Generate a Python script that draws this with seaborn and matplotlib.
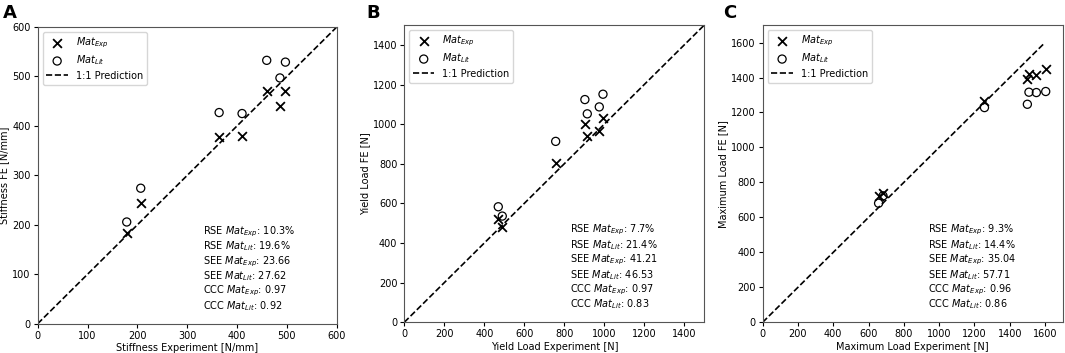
import numpy as np
import pandas as pd
import seaborn as sns
import matplotlib.pyplot as plt

# %%
# panel A: stiffness [N/mm]
stiff_exp = [178.6, 206.7, 364, 410, 459.5, 486, 497]
stiff_fe_exp = [182.8, 244, 378, 380, 471, 441, 471]
stiff_fe_lit = [205.7, 274, 427, 425, 532.6, 497, 529]

# panel B: yield load [N]
yield_exp = [470, 490, 757, 903, 915, 975, 993.5]
yield_fe_exp = [519, 479, 803, 1000, 941, 965, 1032]
yield_fe_lit = [583, 536, 913, 1124, 1052, 1087, 1151]

# panel C: maximum load [N]
max_exp = [657, 682, 1257, 1500, 1509, 1551, 1604]
max_fe_exp = [723, 738, 1268, 1392, 1421, 1417, 1448]
max_fe_lit = [681, 723, 1228, 1247, 1316, 1314, 1320]

stats_A = ["10.3%", "19.6%", "23.66", "27.62", "0.97", "0.92"]
stats_B = ["7.7%", "21.4%", "41.21", "46.53", "0.97", "0.83"]
stats_C = ["9.3%", "14.4%", "35.04", "57.71", "0.96", "0.86"]

panels = [
    dict(letter="A", x=stiff_exp, y_exp=stiff_fe_exp, y_lit=stiff_fe_lit,
         stats=stats_A, lim=600, line_end=600, step=100,
         xlabel="Stiffness Experiment [N/mm]", ylabel="Stiffness FE [N/mm]"),
    dict(letter="B", x=yield_exp, y_exp=yield_fe_exp, y_lit=yield_fe_lit,
         stats=stats_B, lim=1500, line_end=1500, step=200,
         xlabel="Yield Load Experiment [N]", ylabel="Yield Load FE [N]"),
    dict(letter="C", x=max_exp, y_exp=max_fe_exp, y_lit=max_fe_lit,
         stats=stats_C, lim=1700, line_end=1600, step=200,
         xlabel="Maximum Load Experiment [N]", ylabel="Maximum Load FE [N]"),
]

stat_names = [r"RSE $Mat_{Exp}$", r"RSE $Mat_{Lit}$",
              r"SEE $Mat_{Exp}$", r"SEE $Mat_{Lit}$",
              r"CCC $Mat_{Exp}$", r"CCC $Mat_{Lit}$"]

# %%
plt.rcParams["font.size"] = 7
fig = plt.figure(figsize=(10.65, 3.53), dpi=100)

ax_boxes = [
    [0.0354, 0.083, 0.2808, 0.8405],
    [0.3796, 0.087, 0.2817, 0.842],
    [0.7161, 0.087, 0.2817, 0.842],
]
letter_x = [0.003, 0.344, 0.679]

for p, box, lx in zip(panels, ax_boxes, letter_x):
    ax = fig.add_axes(box)
    df = pd.DataFrame({"exp": p["x"], "fe_exp": p["y_exp"], "fe_lit": p["y_lit"]})

    sns.scatterplot(data=df, x="exp", y="fe_exp", marker="x", color="black",
                    s=40, linewidth=1.3, label=r"$Mat_{Exp}$", ax=ax)
    sns.scatterplot(data=df, x="exp", y="fe_lit", marker="o", facecolor="none",
                    edgecolor="black", s=34, linewidth=0.9,
                    label=r"$Mat_{Lit}$", ax=ax)
    ax.plot([0, p["line_end"]], [0, p["line_end"]], "k--", lw=1.2,
            label="1:1 Prediction")

    ax.set_xlim(0, p["lim"])
    ax.set_ylim(0, p["lim"])
    ticks = np.arange(0, p["lim"] + 1, p["step"])
    ticks = ticks[ticks <= p["lim"]]
    ax.set_xticks(ticks)
    ax.set_yticks(ticks)
    ax.set_xlabel(p["xlabel"], fontsize=7, labelpad=2)
    ax.set_ylabel(p["ylabel"], fontsize=7, labelpad=2)
    ax.tick_params(labelsize=7, length=3, pad=2)
    for s in ax.spines.values():
        s.set_color("#555555")

    ax.legend(loc="upper left", fontsize=7, handlelength=2.2,
              borderpad=0.4, labelspacing=0.35)

    for i, (name, val) in enumerate(zip(stat_names, p["stats"])):
        ax.text(0.552, 0.31 - i * 0.05, name + ": " + val,
                transform=ax.transAxes, fontsize=7, va="center", ha="left")

    fig.text(lx, 0.99, p["letter"], fontsize=13, fontweight="bold",
             va="top", ha="left")

plt.savefig("out.png", dpi=100)
